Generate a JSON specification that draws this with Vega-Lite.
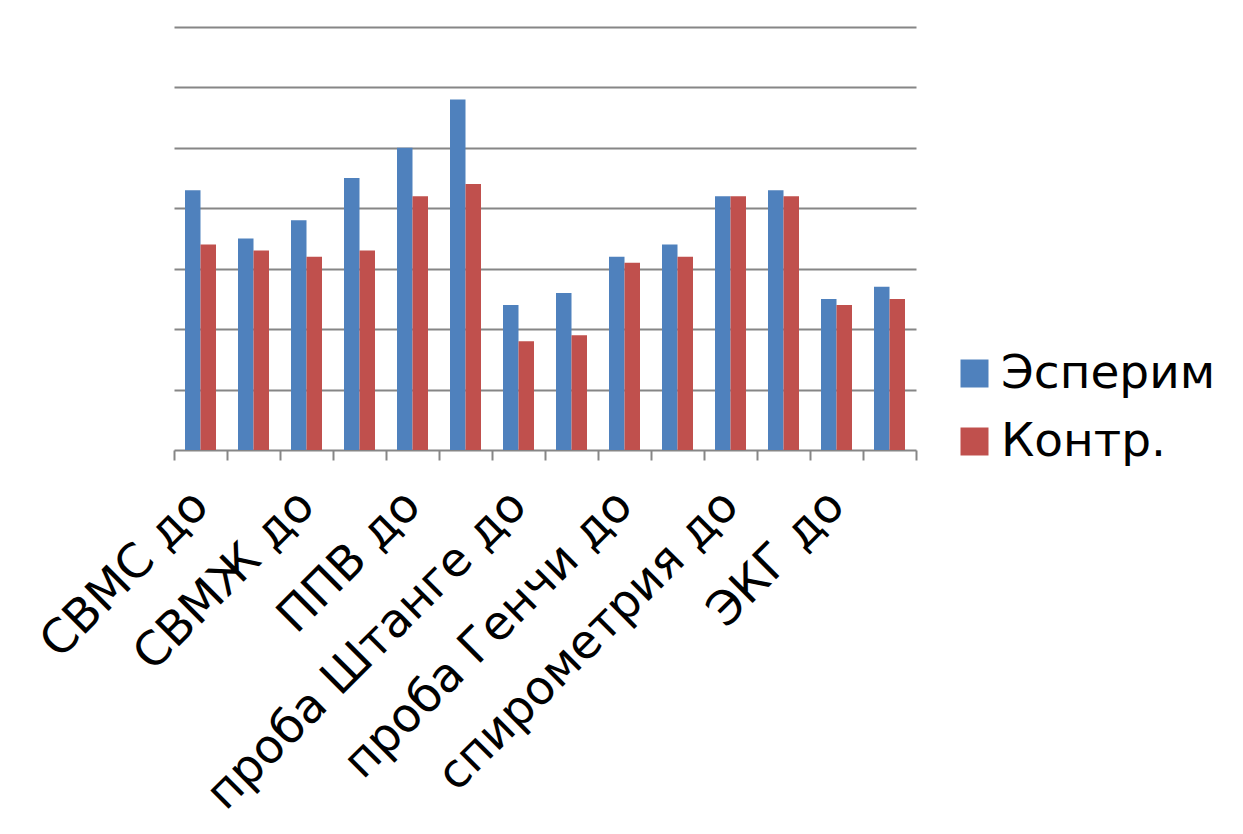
{
  "$schema": "https://vega.github.io/schema/vega-lite/v6.json",
  "autosize": {"type": "none"},
  "width": 742,
  "height": 423,
  "padding": {"left": 174, "top": 27, "right": 327, "bottom": 384},
  "background": "white",
  "config": {
    "font": "DejaVu Sans",
    "view": {"stroke": null}
  },
  "data": {
    "values": [
      {"cat": "СВМС до", "series": "Эсперим", "value": 4.3},
      {"cat": "СВМС до", "series": "Контр.", "value": 3.4},
      {"cat": "СВМС после", "series": "Эсперим", "value": 3.5},
      {"cat": "СВМС после", "series": "Контр.", "value": 3.3},
      {"cat": "СВМЖ до", "series": "Эсперим", "value": 3.8},
      {"cat": "СВМЖ до", "series": "Контр.", "value": 3.2},
      {"cat": "СВМЖ после", "series": "Эсперим", "value": 4.5},
      {"cat": "СВМЖ после", "series": "Контр.", "value": 3.3},
      {"cat": "ППВ до", "series": "Эсперим", "value": 5.0},
      {"cat": "ППВ до", "series": "Контр.", "value": 4.2},
      {"cat": "ППВ после", "series": "Эсперим", "value": 5.8},
      {"cat": "ППВ после", "series": "Контр.", "value": 4.4},
      {"cat": "проба Штанге до", "series": "Эсперим", "value": 2.4},
      {"cat": "проба Штанге до", "series": "Контр.", "value": 1.8},
      {"cat": "проба Штанге после", "series": "Эсперим", "value": 2.6},
      {"cat": "проба Штанге после", "series": "Контр.", "value": 1.9},
      {"cat": "проба Генчи до", "series": "Эсперим", "value": 3.2},
      {"cat": "проба Генчи до", "series": "Контр.", "value": 3.1},
      {"cat": "проба Генчи после", "series": "Эсперим", "value": 3.4},
      {"cat": "проба Генчи после", "series": "Контр.", "value": 3.2},
      {"cat": "спирометрия до", "series": "Эсперим", "value": 4.2},
      {"cat": "спирометрия до", "series": "Контр.", "value": 4.2},
      {"cat": "спирометрия после", "series": "Эсперим", "value": 4.3},
      {"cat": "спирометрия после", "series": "Контр.", "value": 4.2},
      {"cat": "ЭКГ  до", "series": "Эсперим", "value": 2.5},
      {"cat": "ЭКГ  до", "series": "Контр.", "value": 2.4},
      {"cat": "ЭКГ после", "series": "Эсперим", "value": 2.7},
      {"cat": "ЭКГ после", "series": "Контр.", "value": 2.5}
    ]
  },
  "mark": {"type": "bar"},
  "encoding": {
    "x": {
      "field": "cat",
      "type": "nominal",
      "sort": null,
      "scale": {"paddingInner": 0, "paddingOuter": 0},
      "axis": {
        "title": null,
        "labelExpr": "(datum.label && indexof(datum.label, 'после') >= 0) ? '' : datum.label",
        "labelAngle": -45,
        "labelAlign": "right",
        "labelBaseline": "middle",
        "labelFontSize": 47,
        "labelColor": "black",
        "labelPadding": 38,
        "labelOverlap": false,
        "labelLimit": 0,
        "tickBand": "extent",
        "tickSize": 10,
        "tickColor": "#868686",
        "tickWidth": 2,
        "domainColor": "#868686",
        "domainWidth": 2
      }
    },
    "xOffset": {"field": "series", "type": "nominal", "scale": {"domain": ["Эсперим", "Контр."], "paddingInner": 0, "paddingOuter": 0.71}},
    "y": {
      "field": "value",
      "type": "quantitative",
      "scale": {"domain": [0, 7], "nice": false},
      "axis": {
        "title": null,
        "values": [1, 2, 3, 4, 5, 6, 7],
        "labels": false,
        "ticks": false,
        "domain": false,
        "grid": true,
        "gridColor": "#868686",
        "gridWidth": 2
      }
    },
    "color": {
      "field": "series",
      "type": "nominal",
      "scale": {"domain": ["Эсперим", "Контр."], "range": ["#4F81BD", "#C0504D"]},
      "legend": {
        "title": null,
        "orient": "none",
        "legendX": 777,
        "legendY": 323,
        "padding": 0,
        "symbolType": "square",
        "symbolSize": 784,
        "symbolStrokeWidth": 0,
        "labelFontSize": 47,
        "labelColor": "black",
        "labelOffset": 3,
        "labelLimit": 0,
        "rowPadding": 20
      }
    }
  }
}
